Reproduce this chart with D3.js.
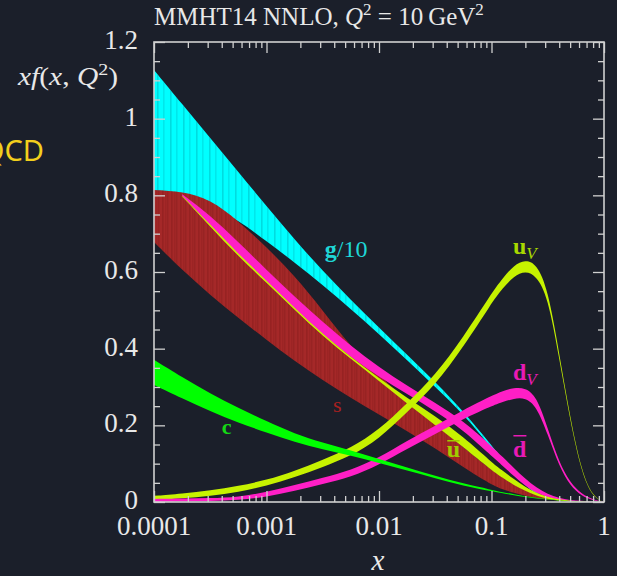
<!DOCTYPE html>
<html>
<head>
<meta charset="utf-8">
<script src="https://cdn.jsdelivr.net/npm/d3@7"></script>
<style>
  html, body { margin: 0; padding: 0; background: #1b1f2a; overflow: hidden; }
  svg { display: block; }
  text { font-family: "Liberation Serif", "DejaVu Serif", serif; }
</style>
</head>
<body>
<script>
'use strict';

// x grid shared by every band
const xGrid = [0.0001, 0.000178, 0.000316, 0.000562, 0.001, 0.00178, 0.00316, 0.00562,
  0.01, 0.0178, 0.0316, 0.0562, 0.1, 0.126, 0.158, 0.2, 0.251, 0.316, 0.398, 0.501, 0.631, 0.794, 1];

// g/10
const gluonHi = [1.127, 1.038, 0.950, 0.861, 0.772, 0.684, 0.603, 0.527, 0.455, 0.384, 0.313, 0.237,
  0.148, 0.112, 0.079, 0.049, 0.023, 0.011, 0.006, 0.004, 0.002, 0.001, 0];
const gluonLo = [0.790, 0.785, 0.772, 0.736, 0.680, 0.625, 0.566, 0.503, 0.438, 0.370, 0.300, 0.230,
  0.140, 0.104, 0.070, 0.044, 0.019, 0.008, 0.004, 0.003, 0.001, 0.0005, 0];
// s
const strangeHi = [0.814, 0.810, 0.790, 0.733, 0.665, 0.590, 0.500, 0.405, 0.331, 0.261, 0.203, 0.143,
  0.083, 0.065, 0.050, 0.037, 0.023, 0.013, 0.007, 0.003, 0.001, 0, 0];
const strangeLo = [0.678, 0.605, 0.540, 0.480, 0.423, 0.367, 0.318, 0.271, 0.228, 0.185, 0.141, 0.090,
  0.045, 0.033, 0.024, 0.016, 0.010, 0.0065, 0.004, 0.002, 0.001, 0, 0];
// dbar (starts where it comes out of the s band)
const dbarHi = [null, 0.803, 0.748, 0.678, 0.606, 0.535, 0.470, 0.407, 0.352, 0.303, 0.259, 0.212,
  0.146, 0.117, 0.089, 0.060, 0.037, 0.021, 0.010, 0.005, 0.003, 0.001, 0];
const dbarLo = [null, 0.799, 0.722, 0.645, 0.575, 0.503, 0.436, 0.378, 0.326, 0.282, 0.237, 0.188,
  0.120, 0.094, 0.068, 0.042, 0.023, 0.013, 0.005, 0.003, 0.001, 0, 0];
// ubar
const ubarHi = [null, 0.799, 0.724, 0.647, 0.578, 0.506, 0.438, 0.378, 0.323, 0.271, 0.224, 0.170,
  0.104, 0.081, 0.060, 0.039, 0.023, 0.013, 0.0065, 0.003, 0.0013, 0, 0];
const ubarLo = [null, 0.797, 0.719, 0.641, 0.572, 0.501, 0.433, 0.373, 0.316, 0.256, 0.201, 0.143,
  0.083, 0.063, 0.044, 0.029, 0.016, 0.008, 0.004, 0.0013, 0, 0, 0];
// c
const charmHi = [0.371, 0.326, 0.283, 0.245, 0.211, 0.178, 0.155, 0.135, 0.112, 0.090, 0.068, 0.048,
  0.032, 0.0255, 0.0205, 0.015, 0.011, 0.0078, 0.0045, 0.0025, 0.0012, 0.0004, 0];
const charmLo = [0.305, 0.270, 0.237, 0.207, 0.181, 0.156, 0.137, 0.121, 0.102, 0.082, 0.062, 0.042,
  0.028, 0.0225, 0.0175, 0.013, 0.009, 0.0062, 0.0035, 0.0015, 0.0008, 0.0002, 0];
// u_V
const uValHi = [0.016, 0.022, 0.030, 0.042, 0.057, 0.081, 0.110, 0.141, 0.188, 0.258, 0.331, 0.430,
  0.545, 0.584, 0.618, 0.632, 0.621, 0.558, 0.391, 0.219, 0.081, 0.014, 0];
const uValLo = [0.005, 0.009, 0.016, 0.026, 0.042, 0.065, 0.091, 0.120, 0.164, 0.235, 0.305, 0.404,
  0.519, 0.558, 0.589, 0.603, 0.590, 0.537, 0.378, 0.211, 0.076, 0.012, 0];
// d_V
const dValHi = [0.008, 0.009, 0.010, 0.013, 0.026, 0.044, 0.063, 0.083, 0.115, 0.160, 0.198, 0.240,
  0.277, 0.290, 0.298, 0.298, 0.276, 0.193, 0.104, 0.050, 0.021, 0.0065, 0];
const dValLo = [0, 0.0013, 0.0026, 0.005, 0.013, 0.029, 0.047, 0.065, 0.097, 0.139, 0.177, 0.217,
  0.250, 0.261, 0.270, 0.272, 0.250, 0.177, 0.094, 0.042, 0.016, 0.004, 0];

const yTickValues = [0, 0.2, 0.4, 0.6, 0.8, 1, 1.2];
const yTickLabels = ["0", "0.2", "0.4", "0.6", "0.8", "1", "1.2"];
const xTickValues = [0.0001, 0.001, 0.01, 0.1, 1];
const xTickLabels = ["0.0001", "0.001", "0.01", "0.1", "1"];

(function() {

  let svgContainer = "";
  let xScale = null;
  let yScale = null;

  window.onload = function() {
    svgContainer = d3.select('body')
      .append('svg')
      .attr('width', 617)
      .attr('height', 576);

    svgContainer.append('rect')
      .attr('width', 617).attr('height', 576)
      .attr('fill', '#1b1f2a');

    xScale = d3.scaleLog().domain([0.0001, 1]).range([154, 604]);
    yScale = d3.scaleLinear().domain([0, 1.2]).range([502, 42]);

    makePatterns();
    plotBands();
    drawTicks();
    makeLabels();
  };

  // vertical stripes that the original bands show
  function makePatterns() {
    let defs = svgContainer.append('defs');
    defs.append('clipPath').attr('id', 'plotClip')
      .append('rect').attr('x', 154).attr('y', 42).attr('width', 450).attr('height', 460);

    let red = defs.append('pattern').attr('id', 'hatchRed')
      .attr('patternUnits', 'userSpaceOnUse').attr('width', 9).attr('height', 10);
    [0.5, 3.5, 5.5].forEach((x, i) => {
      red.append('rect').attr('x', x).attr('y', 0).attr('width', 0.8).attr('height', 10)
        .attr('fill', '#6e1010').attr('opacity', [0.55, 0.35, 0.45][i]);
    });
    let cyan = defs.append('pattern').attr('id', 'hatchCyan')
      .attr('patternUnits', 'userSpaceOnUse').attr('width', 13).attr('height', 10);
    [1.5, 7.5].forEach((x, i) => {
      cyan.append('rect').attr('x', x).attr('y', 0).attr('width', 0.8).attr('height', 10)
        .attr('fill', '#008c96').attr('opacity', [0.6, 0.4][i]);
    });
  }

  function drawBand(g, hi, lo, fill, hatch) {
    let area = d3.area()
      .defined((d) => d !== null)
      .x((d, i) => xScale(xGrid[i]))
      .y0((d, i) => yScale(lo[i]))
      .y1((d) => yScale(d))
      .curve(d3.curveBasis);
    g.append('path').datum(hi).attr('d', area).attr('fill', fill);
    if (hatch) {
      g.append('path').datum(hi).attr('d', area).attr('fill', 'url(#' + hatch + ')');
    }
  }

  // plot all the bands, back to front
  function plotBands() {
    let g = svgContainer.append('g').attr('clip-path', 'url(#plotClip)');
    drawBand(g, gluonHi, gluonLo, '#00ffff', 'hatchCyan');
    drawBand(g, strangeHi, strangeLo, '#a52828', 'hatchRed');
    drawBand(g, dbarHi, dbarLo, '#ff1fc6', null);
    drawBand(g, ubarHi, ubarLo, '#c6f200', null);
    drawBand(g, uValHi, uValLo, '#c6f200', null);
    drawBand(g, dValHi, dValLo, '#ff1fc6', null);
    drawBand(g, charmHi, charmLo, '#00ff00', null);
  }

  // frame, inward ticks and tick labels
  function drawTicks() {
    let frameColor = '#d0d0d0';
    let majorLen = 11, minorLen = 6;

    let xMinor = [];
    [0.0001, 0.001, 0.01, 0.1].forEach((dec) => {
      for (let k = 2; k <= 9; k++) xMinor.push(dec * k);
    });
    let yMinor = d3.range(0.05, 1.2, 0.05).filter((v) => Math.abs(v / 0.2 - Math.round(v / 0.2)) > 0.01);

    let axes = [
      { axis: d3.axisBottom(xScale), t: 'translate(0,502)', major: xTickValues, minor: xMinor },
      { axis: d3.axisTop(xScale), t: 'translate(0,42)', major: xTickValues, minor: xMinor },
      { axis: d3.axisLeft(yScale), t: 'translate(154,0)', major: yTickValues, minor: yMinor },
      { axis: d3.axisRight(yScale), t: 'translate(604,0)', major: yTickValues, minor: yMinor }
    ];
    axes.forEach((a) => {
      [[a.major, majorLen], [a.minor, minorLen]].forEach(([vals, len]) => {
        let ax = a.axis.tickValues(vals).tickSize(-len).tickFormat('');
        let gg = svgContainer.append('g').attr('transform', a.t).call(ax);
        gg.select('.domain').remove();
        gg.selectAll('line').attr('stroke', frameColor).attr('stroke-width', 1.3);
      });
    });

    svgContainer.append('rect')
      .attr('x', 154).attr('y', 42).attr('width', 450).attr('height', 460)
      .attr('fill', 'none').attr('stroke', frameColor).attr('stroke-width', 1.6);

    // y tick labels
    svgContainer.selectAll('.ylab')
      .data(yTickValues)
      .enter()
      .append('text')
        .attr('x', 138)
        .attr('y', (d) => yScale(d))
        .attr('dy', '0.26em')
        .attr('text-anchor', 'end')
        .attr('fill', '#e8e8e8')
        .style('font-size', '27px')
        .text((d, i) => yTickLabels[i]);

    // x tick labels
    svgContainer.selectAll('.xlab')
      .data(xTickValues)
      .enter()
      .append('text')
        .attr('x', (d) => xScale(d))
        .attr('y', 535)
        .attr('text-anchor', 'middle')
        .attr('fill', '#e8e8e8')
        .style('font-size', '27px')
        .text((d, i) => xTickLabels[i]);
  }

  // bold letter with a bar over it
  function barLabel(x, y, letter, color, barRise) {
    let t = svgContainer.append('text')
      .attr('x', x).attr('y', y)
      .attr('fill', color).style('font-size', '24px').style('font-weight', 'bold')
      .text(letter);
    let b = t.node().getBBox();
    svgContainer.append('line')
      .attr('x1', b.x + 0.5).attr('x2', b.x + b.width - 0.5)
      .attr('y1', y - barRise).attr('y2', y - barRise)
      .attr('stroke', color).attr('stroke-width', 1.5);
  }

  function makeLabels() {
    let ink = '#e8e8e8';

    // title
    let title = svgContainer.append('text')
      .attr('x', 154).attr('y', 25)
      .attr('fill', ink).style('font-size', '25px');
    title.append('tspan').text('MMHT14 NNLO, ');
    title.append('tspan').style('font-style', 'italic').text('Q');
    title.append('tspan').attr('dy', -10).style('font-size', '17px').text('2');
    title.append('tspan').attr('dy', 10).text(' = 10\u2009GeV');
    title.append('tspan').attr('dy', -10).style('font-size', '17px').text('2');

    // y axis label
    let ylab = svgContainer.append('text')
      .attr('x', 18).attr('y', 85)
      .attr('textLength', 100).attr('lengthAdjust', 'spacingAndGlyphs')
      .attr('fill', ink).style('font-size', '25px');
    ylab.append('tspan').style('font-style', 'italic').text('xf');
    ylab.append('tspan').text('(');
    ylab.append('tspan').style('font-style', 'italic').text('x');
    ylab.append('tspan').text(', ');
    ylab.append('tspan').style('font-style', 'italic').text('Q');
    ylab.append('tspan').attr('dy', -10).style('font-size', '17px').text('2');
    ylab.append('tspan').attr('dy', 10).text(')');

    // x axis label
    svgContainer.append('text')
      .attr('x', 378).attr('y', 570)
      .attr('text-anchor', 'middle')
      .attr('fill', ink).style('font-size', '29px').style('font-style', 'italic')
      .text('x');

    // stray slide text at the left edge
    svgContainer.append('text')
      .attr('x', 44).attr('y', 161)
      .attr('text-anchor', 'end')
      .attr('fill', '#f2cf1d')
      .style('font-family', '"Noto Sans", sans-serif')
      .style('font-size', '29px')
      .text('QCD');

    // band labels
    let gl = svgContainer.append('text')
      .attr('x', xScale(0.0033)).attr('y', yScale(0.64))
      .attr('fill', '#1fd6d6').style('font-size', '24px');
    gl.append('tspan').style('font-weight', 'bold').text('g');
    gl.append('tspan').text('/10');

    let uv = svgContainer.append('text')
      .attr('x', xScale(0.155)).attr('y', yScale(0.647))
      .attr('fill', '#a8d800').style('font-size', '24px');
    uv.append('tspan').style('font-weight', 'bold').text('u');
    uv.append('tspan').attr('dy', 5).style('font-style', 'italic').style('font-size', '17px').text('V');

    let dv = svgContainer.append('text')
      .attr('x', xScale(0.155)).attr('y', yScale(0.318))
      .attr('fill', '#e81ab5').style('font-size', '24px');
    dv.append('tspan').style('font-weight', 'bold').text('d');
    dv.append('tspan').attr('dy', 5).style('font-style', 'italic').style('font-size', '17px').text('V');

    barLabel(xScale(0.155), yScale(0.118), 'd', '#e81ab5', 21);
    barLabel(xScale(0.040), yScale(0.118), 'u', '#a0cc00', 16);

    svgContainer.append('text')
      .attr('x', xScale(0.0039)).attr('y', yScale(0.235))
      .attr('fill', '#a82020').style('font-size', '22px')
      .text('s');

    svgContainer.append('text')
      .attr('x', xScale(0.0004)).attr('y', yScale(0.177))
      .attr('fill', '#14d814').style('font-size', '22px').style('font-weight', 'bold')
      .text('c');
  }

})();
</script>
</body>
</html>
